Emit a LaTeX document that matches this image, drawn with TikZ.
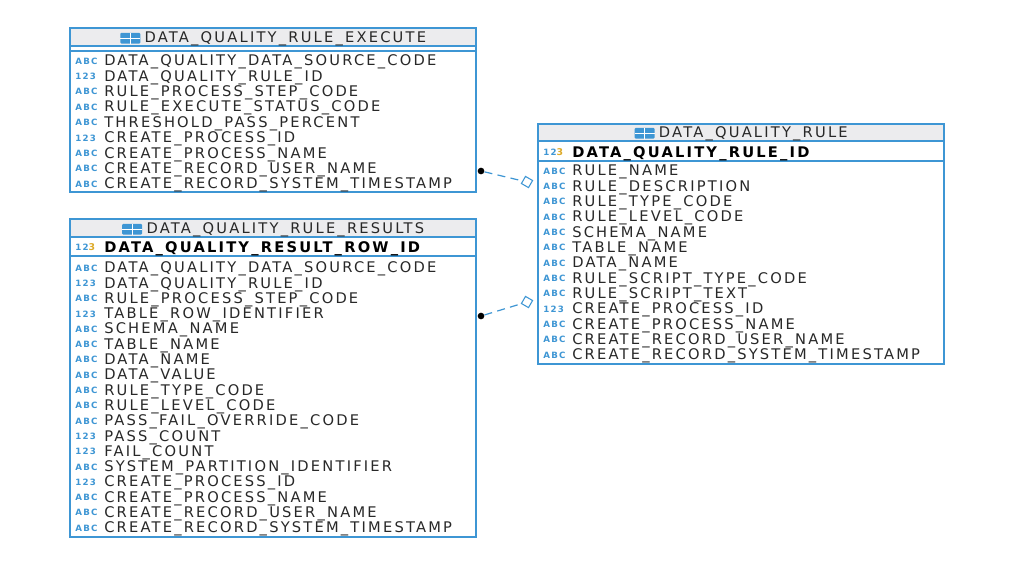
\documentclass[tikz,border=0pt]{standalone}
\usepackage{fontspec}
\setmainfont{DejaVu Sans}[LetterSpace=15]
\usetikzlibrary{shapes.geometric}
\definecolor{erblue}{RGB}{62,150,212}
\definecolor{hdrgray}{RGB}{236,236,238}
\definecolor{keygold}{RGB}{222,170,40}
\definecolor{ertext}{RGB}{40,40,40}
\newcommand\icAbc{\textcolor{erblue}{\fontsize{6.5}{6.5}\selectfont\bfseries ABC}}
\newcommand\icNum{\textcolor{erblue}{\fontsize{6.5}{6.5}\selectfont\bfseries 123}}
\newcommand\icKey{\textcolor{erblue}{\fontsize{6.5}{6.5}\selectfont\bfseries 12}\textcolor{keygold}{\fontsize{7}{7}\selectfont\bfseries 3}}
\newcommand\icTable{\tikz[baseline=-3pt]{\fill[erblue,rounded corners=0.8pt] (0,-4pt) rectangle (15pt,4pt);
  \draw[white,line width=0.5pt] (7.5pt,-4pt) -- (7.5pt,4pt) (0,0) -- (15pt,0);}}
\tikzset{
  ertable/.style={draw=erblue,line width=1.1pt},
  erhead/.style={fill=hdrgray},
  ersep/.style={draw=erblue,line width=0.8pt},
  ericon/.style={anchor=west,inner sep=0pt},
  ercol/.style={anchor=west,inner sep=0pt,text=ertext,font=\fontsize{11}{11}\selectfont},
  erkey/.style={ercol,text=black,font=\fontsize{11}{11}\selectfont\bfseries},
  ertitle/.style={inner sep=0pt,text=ertext,font=\fontsize{11}{11}\selectfont},
  erlink/.style={draw=erblue,line width=0.9pt,dash pattern=on 6pt off 4pt},
  erdot/.style={circle,fill=black,inner sep=0pt,minimum size=5pt},
  erdiamond/.style={diamond,draw=erblue,fill=white,line width=0.8pt,inner sep=0pt,minimum size=9pt,rotate=15},
}
\begin{document}
\begin{tikzpicture}[x=0.75pt,y=0.75pt,yscale=-1]
\useasboundingbox[fill=white] (0,0) rectangle (1024,576);

% DATA_QUALITY_RULE_EXECUTE
\path[erhead] (70,28) rectangle (476,46);
\draw[ersep] (70,46) -- (476,46) (70,51) -- (476,51);
\draw[ertable] (70,28) rectangle (476,192);
\node[ertitle] (exec title) at (273,38.5) {\icTable\hspace{3pt}DATA\_QUALITY\_RULE\_EXECUTE};
\foreach \ic/\col [count=\i from 0] in {Abc/DATA\_QUALITY\_DATA\_SOURCE\_CODE,Num/DATA\_QUALITY\_RULE\_ID,
  Abc/RULE\_PROCESS\_STEP\_CODE,Abc/RULE\_EXECUTE\_STATUS\_CODE,Abc/THRESHOLD\_PASS\_PERCENT,
  Num/CREATE\_PROCESS\_ID,Abc/CREATE\_PROCESS\_NAME,Abc/CREATE\_RECORD\_USER\_NAME,
  Abc/CREATE\_RECORD\_SYSTEM\_TIMESTAMP}{
  \node[ericon] at (75,61+15.4*\i) {\csname ic\ic\endcsname};
  \node[ercol] (exec row\i) at (104,62+15.4*\i) {\col};
}

% DATA_QUALITY_RULE_RESULTS
\path[erhead] (70,219) rectangle (476,237);
\draw[ersep] (70,237) -- (476,237) (70,256) -- (476,256);
\draw[ertable] (70,219) rectangle (476,537);
\node[ertitle] (res title) at (273,229.5) {\icTable\hspace{3pt}DATA\_QUALITY\_RULE\_RESULTS};
\node[ericon] at (75,247.5) {\icKey};
\node[erkey] (res key) at (104,248.5) {DATA\_QUALITY\_RESULT\_ROW\_ID};
\foreach \ic/\col [count=\i from 0] in {Abc/DATA\_QUALITY\_DATA\_SOURCE\_CODE,Num/DATA\_QUALITY\_RULE\_ID,
  Abc/RULE\_PROCESS\_STEP\_CODE,Num/TABLE\_ROW\_IDENTIFIER,Abc/SCHEMA\_NAME,Abc/TABLE\_NAME,
  Abc/DATA\_NAME,Abc/DATA\_VALUE,Abc/RULE\_TYPE\_CODE,Abc/RULE\_LEVEL\_CODE,
  Abc/PASS\_FAIL\_OVERRIDE\_CODE,Num/PASS\_COUNT,Num/FAIL\_COUNT,Abc/SYSTEM\_PARTITION\_IDENTIFIER,
  Num/CREATE\_PROCESS\_ID,Abc/CREATE\_PROCESS\_NAME,Abc/CREATE\_RECORD\_USER\_NAME,
  Abc/CREATE\_RECORD\_SYSTEM\_TIMESTAMP}{
  \node[ericon] at (75,268+15.3*\i) {\csname ic\ic\endcsname};
  \node[ercol] (res row\i) at (104,269+15.3*\i) {\col};
}

% DATA_QUALITY_RULE
\path[erhead] (538,124) rectangle (944,141);
\draw[ersep] (538,141) -- (944,141) (538,161) -- (944,161);
\draw[ertable] (538,124) rectangle (944,364);
\node[ertitle] (rule title) at (741,133.5) {\icTable\hspace{3pt}DATA\_QUALITY\_RULE};
\node[ericon] at (543,152.5) {\icKey};
\node[erkey] (rule key) at (572,153.5) {DATA\_QUALITY\_RULE\_ID};
\foreach \ic/\col [count=\i from 0] in {Abc/RULE\_NAME,Abc/RULE\_DESCRIPTION,Abc/RULE\_TYPE\_CODE,
  Abc/RULE\_LEVEL\_CODE,Abc/SCHEMA\_NAME,Abc/TABLE\_NAME,Abc/DATA\_NAME,Abc/RULE\_SCRIPT\_TYPE\_CODE,
  Abc/RULE\_SCRIPT\_TEXT,Num/CREATE\_PROCESS\_ID,Abc/CREATE\_PROCESS\_NAME,
  Abc/CREATE\_RECORD\_USER\_NAME,Abc/CREATE\_RECORD\_SYSTEM\_TIMESTAMP}{
  \node[ericon] at (543,171+15.33*\i) {\csname ic\ic\endcsname};
  \node[ercol] (rule row\i) at (572,172+15.33*\i) {\col};
}

% relations
\node[erdot] (exec end) at (481,171) {};
\node[erdiamond] (rule end1) at (527,182) {};
\node[erdot] (res end) at (481,316) {};
\node[erdiamond] (rule end2) at (527,302) {};
\draw[erlink] (exec end) -- (rule end1);
\draw[erlink] (res end) -- (rule end2);
\end{tikzpicture}
\end{document}
